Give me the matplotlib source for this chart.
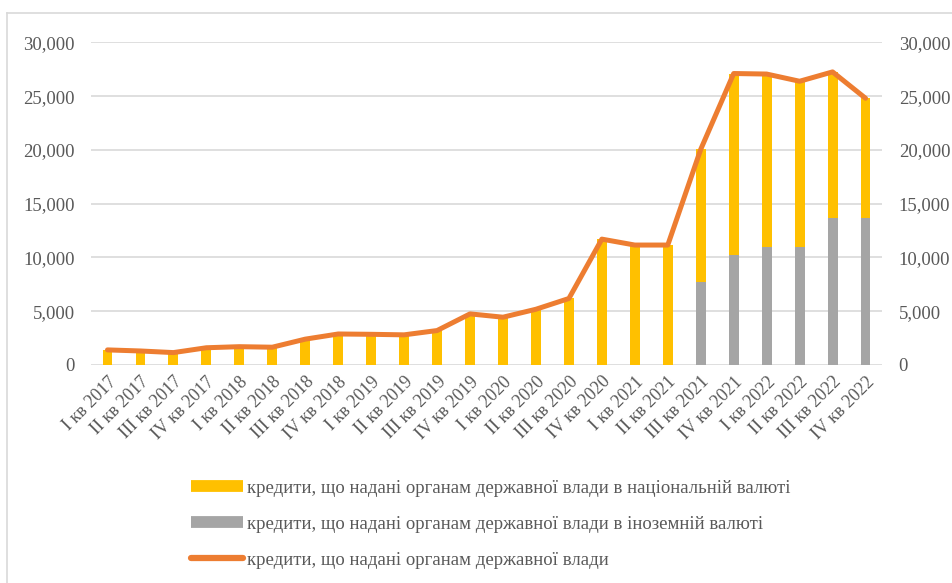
import numpy as np
import matplotlib
matplotlib.use("Agg")
import matplotlib.pyplot as plt
from matplotlib.lines import Line2D
from matplotlib.ticker import FuncFormatter

plt.rcParams["font.family"] = ["Liberation Serif", "DejaVu Serif"]

quarters = [f"{q} кв {y}" for y in range(2017, 2023) for q in ["I", "II", "III", "IV"]]
total = [1400, 1300, 1150, 1600, 1700, 1650, 2400, 2880, 2850, 2800, 3200, 4750,
         4440, 5180, 6180, 11700, 11150, 11150, 20050, 27100, 27050, 26380, 27250, 24800]
foreign = [0] * 18 + [7730, 10200, 11000, 11000, 13700, 13700]
national = [t - f for t, f in zip(total, foreign)]

YELLOW, GREY, ORANGE = "#FFC000", "#A5A5A5", "#ED7D31"
TXT, GRID = "#595959", "#D9D9D9"

fig = plt.figure(figsize=(9.53, 5.83), dpi=100)
ax = fig.add_axes([0.0955, 0.374, 0.83, 0.5534])
x = np.arange(len(quarters))

ax.bar(x, foreign, width=0.3, color=GREY, zorder=2)
ax.bar(x, national, width=0.3, bottom=foreign, color=YELLOW, zorder=2)
ax.plot(x, total, color=ORANGE, lw=3.6, solid_capstyle="round", zorder=3)

ax.set_xlim(-0.5, len(quarters) - 0.5)
ax.set_ylim(0, 30000)
ax.set_yticks(range(0, 30001, 5000))
fmt = FuncFormatter(lambda v, p: f"{int(v):,}")
ax.yaxis.set_major_formatter(fmt)
ax.grid(axis="y", color=GRID, lw=1.2, zorder=0)
ax.set_axisbelow(True)
for s in ax.spines.values():
    s.set_visible(False)
ax.tick_params(axis="y", length=0, pad=11.5, labelsize=13.5, labelcolor=TXT)
ax.tick_params(axis="x", length=0, pad=6, labelsize=13, labelcolor=TXT)
ax.set_xticks(x)
ax.set_xticklabels(quarters, rotation=45, ha="right", rotation_mode="anchor")

ax2 = ax.twinx()
ax2.set_ylim(0, 30000)
ax2.set_yticks(range(0, 30001, 5000))
ax2.yaxis.set_major_formatter(fmt)
for s in ax2.spines.values():
    s.set_visible(False)
ax2.tick_params(axis="y", length=0, pad=12, labelsize=13.5, labelcolor=TXT)

handles = [
    Line2D([], [], color=YELLOW, lw=8.5, solid_capstyle="butt"),
    Line2D([], [], color=GREY, lw=8.5, solid_capstyle="butt"),
    Line2D([], [], color=ORANGE, lw=4.5, solid_capstyle="round"),
]
labels = [
    "кредити, що надані органам державної влади в національній валюті",
    "кредити, що надані органам державної влади в іноземній валюті",
    "кредити, що надані органам державної влади",
]
leg = fig.legend(handles, labels, loc="upper left", bbox_to_anchor=(0.2, 0.177),
                 frameon=False, fontsize=13.5, handlelength=2.8, handletextpad=0.2,
                 labelspacing=1.0, borderaxespad=0, borderpad=0)
for t in leg.get_texts():
    t.set_color(TXT)

# outer frame lines (top and left)
fig.add_artist(Line2D([0.007, 1.0], [0.977, 0.977], transform=fig.transFigure, color=GRID, lw=1.2))
fig.add_artist(Line2D([0.007, 0.007], [0.0, 0.977], transform=fig.transFigure, color=GRID, lw=1.2))

fig.savefig("out.png", dpi=100, facecolor="white")
